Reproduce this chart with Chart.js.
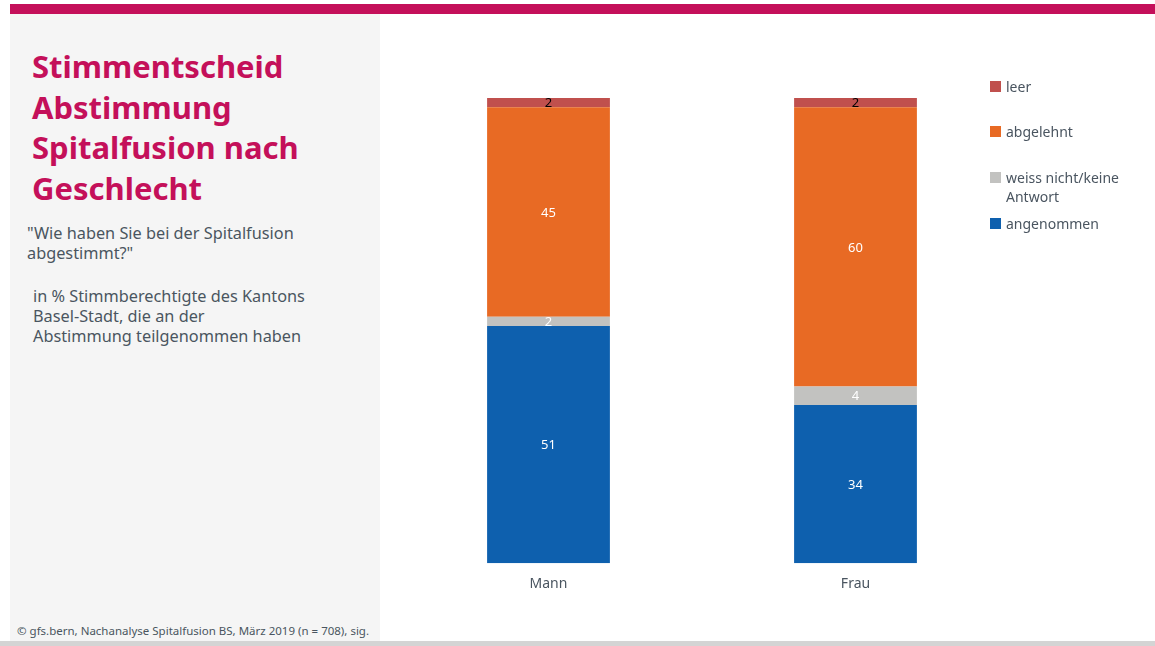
<!DOCTYPE html>
<html>
<head>
<meta charset="utf-8">
<script src="https://cdn.jsdelivr.net/npm/chart.js@4.4.1/dist/chart.umd.min.js"></script>
<style>
  html, body { margin: 0; padding: 0; background: #fff; }
  body { width: 1155px; height: 646px; position: relative; overflow: hidden; font-family: "Noto Sans", "Open Sans", sans-serif; }
  #topbar { position: absolute; left: 10px; top: 4px; width: 1145px; height: 10px; background: #C4105A; }
  #panel { position: absolute; left: 10px; top: 14px; width: 370px; height: 627px; background: #F5F5F5; }
  #bottombar { position: absolute; left: 0; top: 641px; width: 1155px; height: 5px; background: #D4D4D4; }
  #title { position: absolute; left: 32px; top: 46px; margin: 0; font-size: 31px; line-height: 40.5px; font-weight: 700; color: #C4105A; }
  .sub { position: absolute; font-size: 16.3px; line-height: 20px; color: #4A5560; }
  #q { left: 27px; top: 223px; }
  #base { left: 33px; top: 286px; }
  #source { position: absolute; left: 17px; top: 623px; font-size: 11.5px; color: #4A5560; }
  #wrap { position: absolute; left: 380px; top: 14px; width: 775px; height: 590px; }
  #legend { position: absolute; left: 990px; top: 0; }
  .li { position: absolute; left: 0; width: 165px; font-size: 14px; line-height: 19px; color: #4A5560; white-space: nowrap; }
  .li span.sw { position: absolute; left: 0; top: 4px; width: 11px; height: 11px; }
  .li span.tx { position: absolute; left: 16px; top: 0; }
</style>
</head>
<body>
<div id="topbar"></div>
<div id="panel"></div>
<div id="bottombar"></div>
<h1 id="title">Stimmentscheid<br>Abstimmung<br>Spitalfusion nach<br>Geschlecht</h1>
<div class="sub" id="q">"Wie haben Sie bei der Spitalfusion<br>abgestimmt?"</div>
<div class="sub" id="base">in % Stimmberechtigte des Kantons<br>Basel-Stadt, die an der<br>Abstimmung teilgenommen haben</div>
<div id="source">© gfs.bern, Nachanalyse Spitalfusion BS, März 2019 (n = 708), sig.</div>
<div id="wrap"><canvas id="c"></canvas></div>
<div id="legend"></div>
<script>
// Categories and answer shares (in %)
const categories = ["Mann", "Frau"];
const angenommen = [51, 34];
const weissNicht = [2, 4];
const abgelehnt = [45, 60];
const leer = [2, 2];

const seriesNames = ["angenommen", "weiss nicht/keine Antwort", "abgelehnt", "leer"];
const seriesColors = ["#0E60AE", "#C2C2C0", "#E86A24", "#C0504D"];
const labelColors = ["#FFFFFF", "#FFFFFF", "#FFFFFF", "#000000"];

// Legend (top to bottom: leer, abgelehnt, weiss nicht, angenommen)
const legendLayout = [
  { idx: 3, top: 77, text: "leer" },
  { idx: 2, top: 122, text: "abgelehnt" },
  { idx: 1, top: 168, text: "weiss nicht/keine<br>Antwort" },
  { idx: 0, top: 214, text: "angenommen" }
];
const legendEl = document.getElementById("legend");
legendLayout.forEach(l => {
  const d = document.createElement("div");
  d.className = "li";
  d.style.top = l.top + "px";
  d.innerHTML = '<span class="sw" style="background:' + seriesColors[l.idx] + '"></span><span class="tx">' + l.text + '</span>';
  legendEl.appendChild(d);
});

// Draws each segment's value in its centre
const valueLabels = {
  id: "valueLabels",
  afterDatasetsDraw(chart) {
    const ctx = chart.ctx;
    ctx.save();
    ctx.font = '13px "Noto Sans", sans-serif';
    ctx.textAlign = "center";
    ctx.textBaseline = "middle";
    chart.data.datasets.forEach((ds, i) => {
      const meta = chart.getDatasetMeta(i);
      meta.data.forEach((bar, j) => {
        const v = ds.data[j];
        const y = (bar.y + bar.base) / 2;
        ctx.fillStyle = labelColors[i];
        ctx.fillText(String(v), bar.x, y + 1);
      });
    });
    ctx.restore();
  }
};

const allSeries = [angenommen, weissNicht, abgelehnt, leer];
new Chart(document.getElementById("c"), {
  type: "bar",
  data: {
    labels: categories,
    datasets: allSeries.map((d, i) => ({
      label: seriesNames[i],
      data: d,
      backgroundColor: seriesColors[i],
      borderWidth: 0,
      categoryPercentage: 1.0,
      barPercentage: 0.4
    }))
  },
  options: {
    responsive: true,
    maintainAspectRatio: false,
    animation: false,
    layout: { padding: { left: 15, right: 146, top: 84, bottom: 0 } },
    plugins: { legend: { display: false }, tooltip: { enabled: false } },
    scales: {
      x: {
        stacked: true,
        grid: { display: false, drawTicks: false },
        border: { display: false },
        ticks: { color: "#4A5560", font: { family: '"Noto Sans", sans-serif', size: 14 }, padding: 12 }
      },
      y: {
        stacked: true,
        display: false,
        min: 0,
        max: 100
      }
    }
  },
  plugins: [valueLabels]
});
</script>
</body>
</html>
